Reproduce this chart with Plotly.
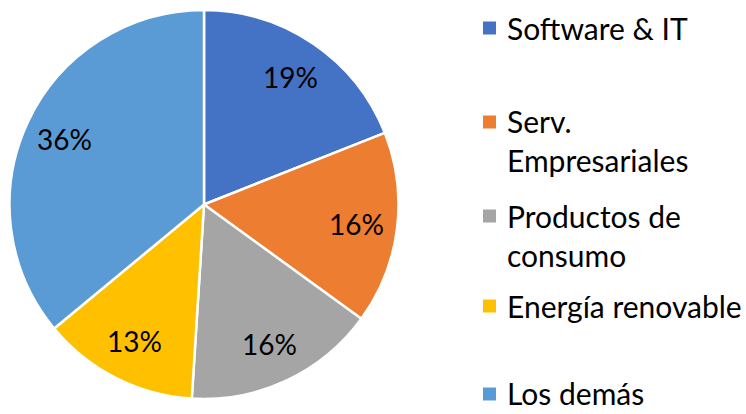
import math
import plotly.graph_objects as go

# ---- data ----
categories = ["Software & IT", "Serv. Empresariales", "Productos de consumo",
              "Energía renovable", "Los demás"]
legend_labels = ["Software & IT", "Serv.<br>Empresariales", "Productos de<br>consumo",
                 "Energía renovable", "Los demás"]
shares = [19, 16, 16, 13, 36]
colors = ["#4472C4", "#ED7D31", "#A5A5A5", "#FFC000", "#5B9BD5"]

# ---- layout constants (pixels) ----
W, H = 746, 414
cx, cy, R = 204, 204.5, 194.5
LABEL_R = 0.79
FONT = "Lato"
FS_LEG = 30
FS_LAB = 28
legend_item_centers = [28, 141, 235, 306, 393]  # vertical centre of each legend block
legend_sq_centers = [28, 122, 216, 306, 394]
sq_x0, sq_size, text_x = 483, 13, 505

fig = go.Figure(go.Pie(
    labels=categories, values=shares, sort=False, direction="clockwise", rotation=0,
    marker=dict(colors=colors, line=dict(color="white", width=2.5)),
    textinfo="none", hoverinfo="label+percent", showlegend=False,
    domain=dict(x=[(cx - R) / W, (cx + R) / W], y=[1 - (cy + R) / H, 1 - (cy - R) / H]),
))

annotations = []
total = sum(shares)
cum = 0
for v in shares:
    mid = (cum + v / 2) / total * 2 * math.pi
    cum += v
    px = cx + LABEL_R * R * math.sin(mid)
    py = cy - LABEL_R * R * math.cos(mid)
    annotations.append(dict(x=px / W, y=1 - py / H, xref="paper", yref="paper",
                            text=f"{v}%", showarrow=False, xanchor="center", yanchor="middle",
                            font=dict(family=FONT, size=FS_LAB, color="black")))

shapes = []
for lab, col, c_text, c_sq in zip(legend_labels, colors, legend_item_centers, legend_sq_centers):
    annotations.append(dict(x=text_x / W, y=1 - c_text / H, xref="paper", yref="paper",
                            text=lab, showarrow=False, xanchor="left", yanchor="middle", align="left",
                            font=dict(family=FONT, size=FS_LEG, color="black")))
    shapes.append(dict(type="rect", xref="paper", yref="paper",
                       x0=sq_x0 / W, x1=(sq_x0 + sq_size) / W,
                       y0=1 - (c_sq + sq_size / 2) / H, y1=1 - (c_sq - sq_size / 2) / H,
                       fillcolor=col, line=dict(width=0)))

fig.update_layout(width=W, height=H, margin=dict(l=0, r=0, t=0, b=0),
                  paper_bgcolor="white", plot_bgcolor="white",
                  annotations=annotations, shapes=shapes,
                  font=dict(family=FONT, size=FS_LEG, color="black"))

fig.write_html("out.html", config={"displayModeBar": False},
               post_script="document.body.style.margin='0px';document.body.style.overflow='hidden';")
